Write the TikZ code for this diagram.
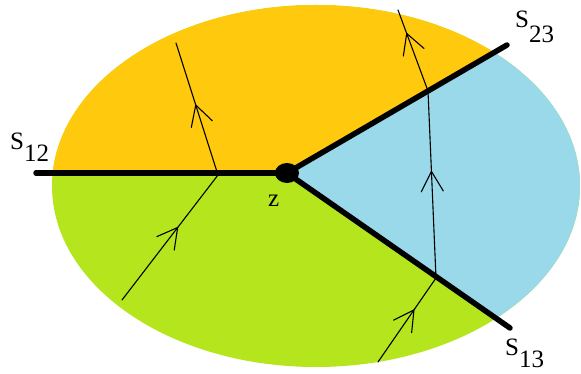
\documentclass[tikz,border=0pt]{standalone}
\usepackage{fontspec}
\setmainfont{Liberation Serif}
\usetikzlibrary{calc, decorations.markings}
\definecolor{topfill}{HTML}{FFC90E}
\definecolor{lowfill}{HTML}{B5E61D}
\definecolor{wedgefill}{HTML}{99D9EA}
\tikzset{
  sheet/.style={black, line width=5.5pt, line cap=round},
  ray/.style={black, line width=1.1pt, line cap=round},
  midarrow/.style={postaction={decorate, decoration={markings,
      mark=at position #1 with {\draw[ray] (-20,11) -- (0,0) -- (-20,-11);}}}},
  tag/.style={font=\fontsize{25}{29}\selectfont, inner sep=0pt, anchor=base west}
}
\begin{document}
\begin{tikzpicture}[x=1pt, y=-1pt]
\useasboundingbox (0,0) rectangle (581,374);
\coordinate (Z) at (287,173);
\coordinate (E12) at (36,173);
\coordinate (E23) at (507,45);
\coordinate (E13) at (510,328);
\begin{scope}
  \clip (316,186) ellipse [x radius=264, y radius=181];
  \fill[lowfill] (0,0) rectangle (581,374);
  \fill[topfill] (-10,173) -- (Z) -- ($(Z)!1.5!(E23)$) -- (-10,-30) -- cycle;
  \fill[wedgefill] (Z) -- ($(Z)!1.5!(E23)$) -- ($(Z)!1.5!(E13)$) -- cycle;
\end{scope}
\coordinate (A1) at (122,300);
\coordinate (A2) at (218,175);
\coordinate (A3) at (176,43);
\coordinate (B1) at (378,362);
\coordinate (B2) at (436,278);
\coordinate (B3) at (428,91);
\coordinate (B4) at (398,10);
\draw[ray, midarrow=0.58] (A1) -- (A2);
\draw[ray, midarrow=0.53] (A2) -- (A3);
\draw[ray, midarrow=0.62] (B1) -- (B2);
\draw[ray, midarrow=0.57] (B2) -- (B3);
\draw[ray, midarrow=0.71] (B3) -- (B4);
\foreach \e in {E12,E23,E13}{
  \draw[sheet] (Z) -- (\e);
}
\fill (Z) ellipse [x radius=12, y radius=10];
\node[tag] (L12) at (10,150) {S\raisebox{-12pt}{12}};
\node[tag] (L23) at (515,28) {S\raisebox{-15pt}{23}};
\node[tag] (L13) at (505,355) {S\raisebox{-12pt}{13}};
\node[tag] (Lz) at (268,207) {z};
\end{tikzpicture}
\end{document}
